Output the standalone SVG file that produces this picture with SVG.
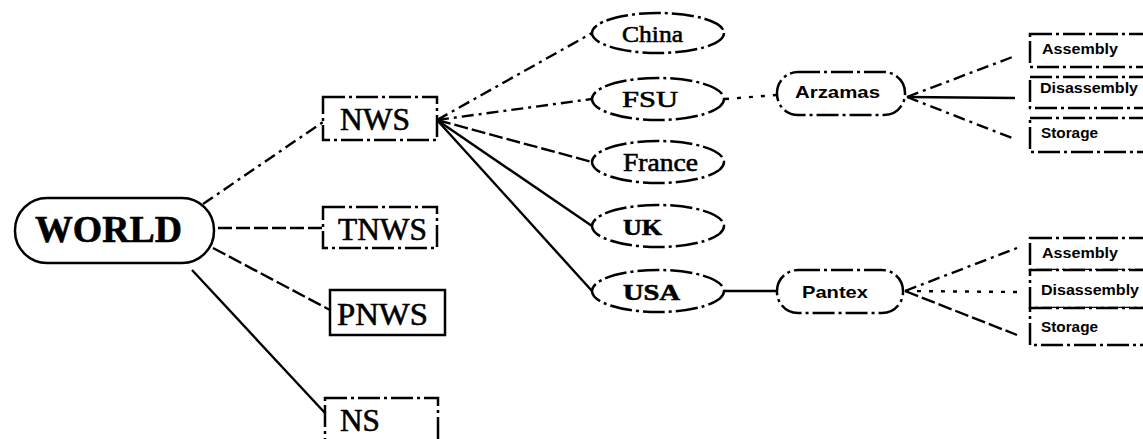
<svg xmlns="http://www.w3.org/2000/svg" width="1143" height="439" viewBox="0 0 1143 439">
<style>
.bg{fill:#fff}
.shape{fill:#fff;stroke:#000;stroke-width:2.5;stroke-dasharray:22 4 3 4}
.line{fill:none;stroke:#000;stroke-width:2.4}
.dd{stroke-dasharray:12 5 3 5}
.ds{stroke-dasharray:14 4}
.dt{stroke-dasharray:4 8}
.serif{font-family:"Liberation Serif","Times New Roman",serif;fill:#000;stroke:#000;stroke-width:0.6}
.sans{font-family:"Liberation Sans",Arial,sans-serif;font-weight:bold;fill:#000}
</style>
<rect class="bg" x="0" y="0" width="1143" height="439"/>
<g id="connectors">
  <line class="line dd" x1="203" y1="204" x2="323" y2="122"/>
  <line class="line ds" x1="218" y1="228" x2="323" y2="228"/>
  <line class="line ds" x1="213" y1="248" x2="330" y2="310"/>
  <line class="line" x1="192" y1="270" x2="325" y2="413"/>
  <line class="line dd" x1="437" y1="120" x2="592" y2="33"/>
  <line class="line dd" x1="437" y1="120" x2="592" y2="99"/>
  <line class="line ds" x1="437" y1="120" x2="592" y2="162"/>
  <line class="line" x1="437" y1="120" x2="592" y2="226"/>
  <line class="line" x1="437" y1="120" x2="592" y2="291"/>
  <line class="line dt" x1="725" y1="99" x2="777" y2="95"/>
  <line class="line dd" x1="907" y1="97" x2="1015" y2="56"/>
  <line class="line" x1="907" y1="97" x2="1015" y2="98"/>
  <line class="line dd" x1="907" y1="97" x2="1012" y2="138"/>
  <line class="line" x1="725" y1="291" x2="777" y2="291"/>
  <line class="line dd" x1="905" y1="291" x2="1017" y2="248"/>
  <line class="line dt" x1="905" y1="291" x2="1017" y2="292"/>
  <line class="line ds" x1="905" y1="291" x2="1017" y2="335"/>
</g>
<g id="world">
  <rect class="shape" x="15" y="198" width="199" height="65" rx="32" style="stroke-dasharray:none"/>
  <text class="serif" x="35" y="242" font-size="38" font-weight="bold" textLength="147" lengthAdjust="spacingAndGlyphs">WORLD</text>
</g>
<g id="nws">
  <rect class="shape" x="323" y="97" width="114" height="43"/>
  <text class="serif" x="340" y="130" font-size="31" textLength="70" lengthAdjust="spacingAndGlyphs">NWS</text>
</g>
<g id="tnws">
  <rect class="shape" x="323" y="207" width="114" height="41"/>
  <text class="serif" x="338" y="240" font-size="31" textLength="89" lengthAdjust="spacingAndGlyphs">TNWS</text>
</g>
<g id="pnws">
  <rect class="shape" x="330" y="290" width="115" height="45" style="stroke-dasharray:none"/>
  <text class="serif" x="337" y="325" font-size="31" textLength="91" lengthAdjust="spacingAndGlyphs">PNWS</text>
</g>
<g id="ns">
  <rect class="shape" x="325" y="398" width="113" height="50"/>
  <text class="serif" x="340" y="431" font-size="31" textLength="40" lengthAdjust="spacingAndGlyphs">NS</text>
</g>
<g id="china">
  <ellipse class="shape" cx="658" cy="33" rx="66" ry="20"/>
  <text class="serif" x="622" y="42" font-size="24" textLength="61" lengthAdjust="spacingAndGlyphs">China</text>
</g>
<g id="fsu">
  <ellipse class="shape" cx="658" cy="99" rx="66" ry="21"/>
  <text class="serif" x="622" y="107" font-size="24" textLength="56" lengthAdjust="spacingAndGlyphs">FSU</text>
</g>
<g id="france">
  <ellipse class="shape" cx="658" cy="162" rx="66" ry="21"/>
  <text class="serif" x="623" y="171" font-size="25" textLength="75" lengthAdjust="spacingAndGlyphs">France</text>
</g>
<g id="uk">
  <ellipse class="shape" cx="658" cy="226" rx="66" ry="21"/>
  <text class="serif" x="623" y="235" font-size="24" font-weight="bold" textLength="39" lengthAdjust="spacingAndGlyphs">UK</text>
</g>
<g id="usa">
  <ellipse class="shape" cx="658" cy="291" rx="66" ry="21"/>
  <text class="serif" x="623" y="300" font-size="24" font-weight="bold" textLength="57" lengthAdjust="spacingAndGlyphs">USA</text>
</g>
<g id="arzamas">
  <rect class="shape" x="777" y="72" width="128" height="43" rx="21"/>
  <text class="sans" x="795" y="98" font-size="16" textLength="85" lengthAdjust="spacingAndGlyphs">Arzamas</text>
</g>
<g id="pantex">
  <rect class="shape" x="777" y="270" width="126" height="43" rx="21"/>
  <text class="sans" x="802" y="298" font-size="17" textLength="66" lengthAdjust="spacingAndGlyphs">Pantex</text>
</g>
<g id="a-assembly">
  <rect class="shape" x="1030" y="34" width="130" height="33"/>
  <text class="sans" x="1042" y="54" font-size="14" textLength="76" lengthAdjust="spacingAndGlyphs">Assembly</text>
</g>
<g id="a-disassembly">
  <rect class="shape" x="1030" y="77" width="130" height="31"/>
  <text class="sans" x="1040" y="93" font-size="14" textLength="98" lengthAdjust="spacingAndGlyphs">Disassembly</text>
</g>
<g id="a-storage">
  <rect class="shape" x="1030" y="118" width="130" height="34"/>
  <text class="sans" x="1041" y="138" font-size="14" textLength="57" lengthAdjust="spacingAndGlyphs">Storage</text>
</g>
<g id="p-assembly">
  <rect class="shape" x="1030" y="238" width="130" height="32"/>
  <text class="sans" x="1042" y="258" font-size="14" textLength="76" lengthAdjust="spacingAndGlyphs">Assembly</text>
</g>
<g id="p-disassembly">
  <rect class="shape" x="1030" y="270" width="130" height="38"/>
  <text class="sans" x="1041" y="295" font-size="14" textLength="98" lengthAdjust="spacingAndGlyphs">Disassembly</text>
</g>
<g id="p-storage">
  <rect class="shape" x="1030" y="308" width="130" height="37"/>
  <text class="sans" x="1041" y="332" font-size="14" textLength="57" lengthAdjust="spacingAndGlyphs">Storage</text>
</g>
</svg>
